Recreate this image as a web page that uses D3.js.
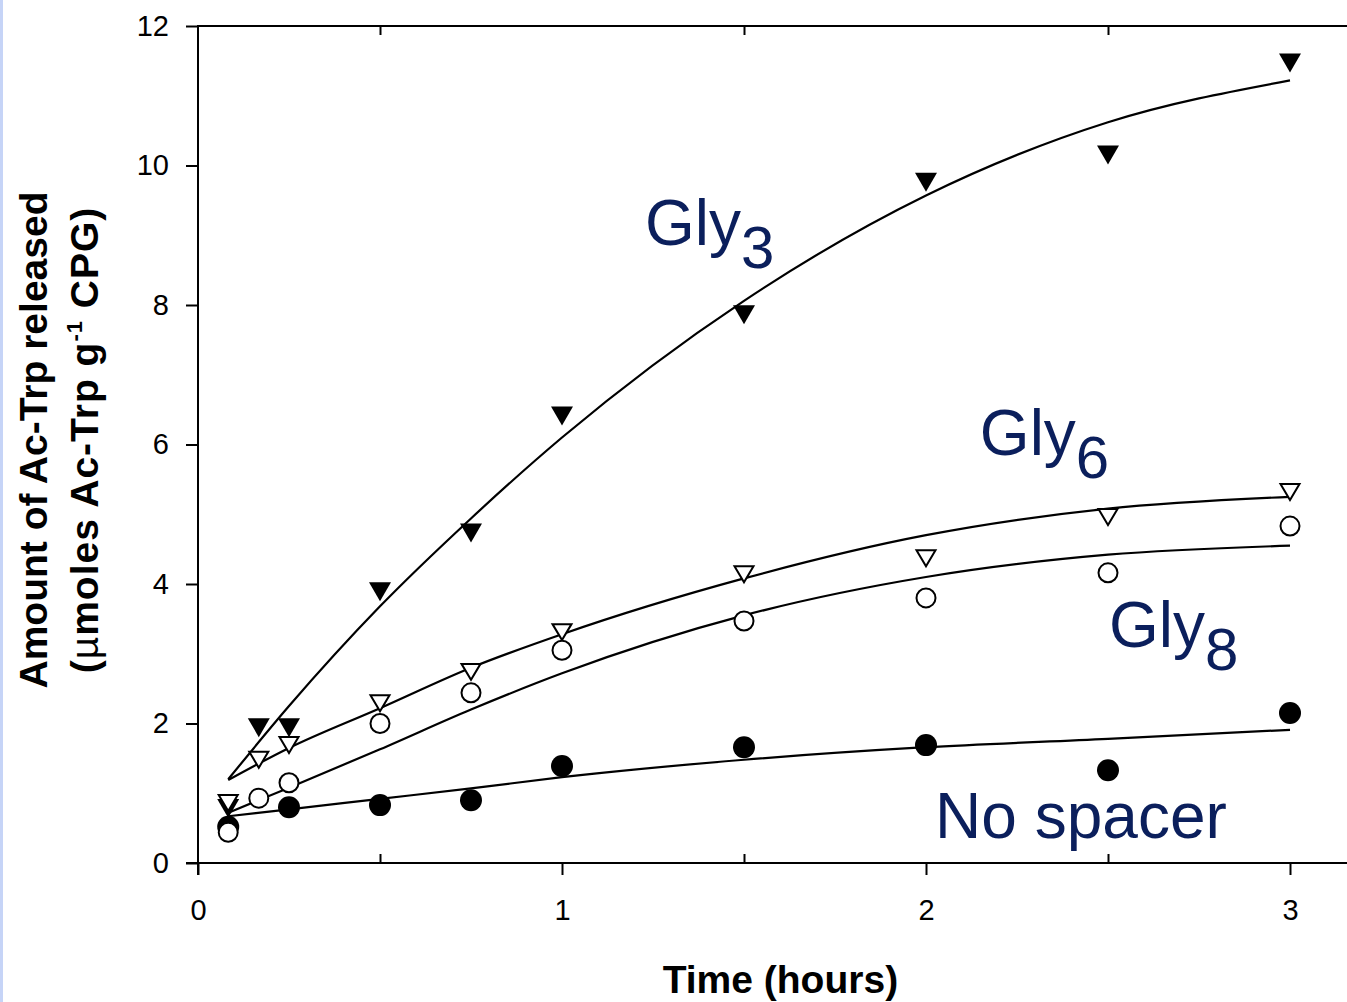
<!DOCTYPE html>
<html>
<head>
<meta charset="utf-8">
<script src="https://cdn.jsdelivr.net/npm/d3@7"></script>
<style>
  html, body { margin: 0; padding: 0; background: #fff; }
  svg { display: block; }
  text { font-family: "Liberation Sans", Arial, Helvetica, sans-serif; }
</style>
</head>
<body>
<svg id="chart" width="1347" height="1002"></svg>
<script>
// Sampling times (hours)
const hours = [0.083, 0.167, 0.25, 0.5, 0.75, 1, 1.5, 2, 2.5, 3];

// Ac-Trp released (µmol per g CPG) for each spacer
const gly3     = [0.78, 1.94, 1.94, 3.89, 4.73, 6.41, 7.86, 9.76, 10.15, 11.47];
const gly6     = [0.86, 1.48, 1.69, 2.29, 2.74, 3.31, 4.14, 4.37, 4.96, 5.32];
const gly8     = [0.44, 0.93, 1.15, 2.00, 2.44, 3.05, 3.47, 3.80, 4.16, 4.83];
const noSpacer = [0.52, null, 0.80, 0.83, 0.90, 1.39, 1.66, 1.69, 1.33, 2.15];

// Fitted release curves
const fitHours    = [0.083, 0.25, 0.5, 0.75, 1, 1.5, 2, 2.5, 3];
const gly3Fit     = [1.20, 2.25, 3.68, 4.94, 6.10, 8.06, 9.57, 10.62, 11.22];
const gly6Fit     = [1.19, 1.65, 2.22, 2.80, 3.28, 4.08, 4.70, 5.08, 5.25];
const gly8Fit     = [0.72, 1.08, 1.63, 2.20, 2.72, 3.55, 4.10, 4.42, 4.55];
const noSpacerFit = [0.67, 0.77, 0.92, 1.07, 1.23, 1.48, 1.66, 1.78, 1.91];

// Axis ticks
const xMajorTicks = [0, 1, 2, 3];
const xMinorTicks = [0.5, 1.5, 2.5];
const yTicks = [0, 2, 4, 6, 8, 10, 12];

const svg = d3.select("#chart");
const W = 1347, H = 1002;

svg.append("rect").attr("width", W).attr("height", H).attr("fill", "#fff");
// thin slide edge on the left
svg.append("rect").attr("x", 0).attr("y", 0).attr("width", 3).attr("height", H).attr("fill", "#c6d4f7");

const x = d3.scaleLinear().domain([0, 3.2]).range([198, 198 + 364 * 3.2]);
const y = d3.scaleLinear().domain([0, 12]).range([863, 26]);

const axisStyle = g => {
  g.selectAll("path.domain").attr("stroke", "#000").attr("stroke-width", 2);
  g.selectAll(".tick line").attr("stroke", "#000").attr("stroke-width", 2);
  g.selectAll(".tick text").attr("fill", "#000")
    .style("font-family", '"Liberation Sans", Arial, sans-serif')
    .style("font-size", "29px");
};

// Bottom axis: major ticks outward with labels
svg.append("g")
  .attr("transform", `translate(0,${y(0)})`)
  .call(d3.axisBottom(x).tickValues(xMajorTicks).tickFormat(d3.format("d"))
        .tickSize(12).tickPadding(24).tickSizeOuter(0))
  .call(axisStyle)
  .call(g => g.select("path.domain").remove());

// Bottom minor ticks, pointing into the plot
svg.append("g")
  .attr("transform", `translate(0,${y(0)})`)
  .call(d3.axisTop(x).tickValues(xMinorTicks).tickFormat("").tickSize(9).tickSizeOuter(0))
  .call(axisStyle)
  .call(g => g.select("path.domain").remove());

// Bottom axis line (extends left to meet the y tick)
svg.append("line")
  .attr("x1", 186).attr("x2", x(3.2)).attr("y1", y(0)).attr("y2", y(0))
  .attr("stroke", "#000").attr("stroke-width", 2);

// Top frame with inward minor ticks
svg.append("g")
  .attr("transform", `translate(0,${y(12)})`)
  .call(d3.axisBottom(x).tickValues(xMinorTicks).tickFormat("").tickSize(9).tickSizeOuter(0))
  .call(axisStyle)
  .call(g => g.select("path.domain").remove());
svg.append("line")
  .attr("x1", 198).attr("x2", x(3.2)).attr("y1", y(12)).attr("y2", y(12))
  .attr("stroke", "#000").attr("stroke-width", 2);

// Left axis
svg.append("g")
  .attr("transform", `translate(${x(0)},0)`)
  .call(d3.axisLeft(y).tickValues(yTicks).tickFormat(d3.format("d"))
        .tickSize(12).tickPadding(17).tickSizeOuter(0))
  .call(axisStyle)
  .call(g => g.select("path.domain").remove());
svg.append("line")
  .attr("x1", x(0)).attr("x2", x(0)).attr("y1", y(12) - 1).attr("y2", y(0) + 12)
  .attr("stroke", "#000").attr("stroke-width", 2);

// Axis titles
svg.append("text")
  .attr("x", x(1.6)).attr("y", 993)
  .attr("text-anchor", "middle")
  .style("font-size", "39px").style("font-weight", "bold")
  .text("Time (hours)");

const yTitle = svg.append("g").attr("transform", "translate(0,440) rotate(-90)");
yTitle.append("text")
  .attr("x", 0).attr("y", 47)
  .attr("text-anchor", "middle")
  .style("font-size", "39px").style("font-weight", "bold")
  .text("Amount of Ac-Trp released");
const l2 = yTitle.append("text")
  .attr("x", 0).attr("y", 98)
  .attr("text-anchor", "middle")
  .style("font-size", "39px").style("font-weight", "bold")
  .style("letter-spacing", "1px");
l2.append("tspan").text("(");
l2.append("tspan").style("font-weight", "normal").text("\u00b5");
l2.append("tspan").text("moles Ac-Trp g");
l2.append("tspan").attr("dy", -16).style("font-size", "22px").text("-1");
l2.append("tspan").attr("dy", 16).text(" CPG)");

// Fitted curves
const fitLine = d3.line()
  .x((d, i) => x(fitHours[i]))
  .y(d => y(d))
  .curve(d3.curveMonotoneX);

[gly3Fit, gly6Fit, gly8Fit, noSpacerFit].forEach(vals => {
  svg.append("path")
    .attr("d", fitLine(vals))
    .attr("fill", "none")
    .attr("stroke", "#000")
    .attr("stroke-width", 2.2);
});

// Markers
const pts = vals => vals.map((v, i) => ({ t: hours[i], v })).filter(d => d.v !== null);
const triW = 22, triH = 19;
const downTri = `M${-triW / 2},${-triH / 2}L${triW / 2},${-triH / 2}L0,${triH / 2}Z`;

svg.append("g").selectAll("path").data(pts(gly3)).join("path")
  .attr("transform", d => `translate(${x(d.t)},${y(d.v)})`)
  .attr("d", downTri)
  .attr("fill", "#000");

svg.append("g").selectAll("circle").data(pts(noSpacer)).join("circle")
  .attr("cx", d => x(d.t)).attr("cy", d => y(d.v)).attr("r", 11)
  .attr("fill", "#000");

svg.append("g").selectAll("path").data(pts(gly6)).join("path")
  .attr("transform", d => `translate(${x(d.t)},${y(d.v)})`)
  .attr("d", `M${-(triW - 3) / 2},${-(triH - 3) / 2}L${(triW - 3) / 2},${-(triH - 3) / 2}L0,${(triH - 3) / 2}Z`)
  .attr("fill", "#fff").attr("stroke", "#000").attr("stroke-width", 2);

svg.append("g").selectAll("circle").data(pts(gly8)).join("circle")
  .attr("cx", d => x(d.t)).attr("cy", d => y(d.v)).attr("r", 9.5)
  .attr("fill", "#fff").attr("stroke", "#000").attr("stroke-width", 2);

// Series labels
const labelColor = "#0b1f5c";
const seriesLabel = (t, v, base, sub) => {
  const tx = svg.append("text")
    .attr("x", x(t)).attr("y", y(v))
    .attr("fill", labelColor)
    .style("font-size", "64px");
  tx.append("tspan").text(base);
  if (sub) tx.append("tspan").attr("dy", 23).style("font-size", "60px").text(sub);
};
seriesLabel(1.228, 8.86, "Gly", "3");
seriesLabel(2.148, 5.85, "Gly", "6");
seriesLabel(2.503, 3.10, "Gly", "8");
seriesLabel(2.025, 0.36, "No spacer", null);
</script>
</body>
</html>
